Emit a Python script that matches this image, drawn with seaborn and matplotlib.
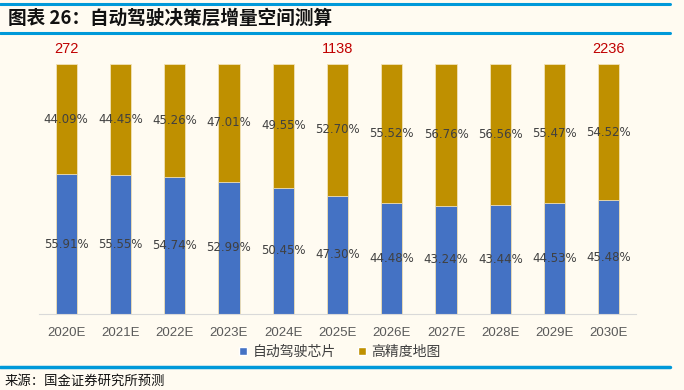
import matplotlib
matplotlib.use('Agg')
import matplotlib.pyplot as plt
from matplotlib.lines import Line2D
from matplotlib.patches import Patch
import seaborn as sns
import pandas as pd

# --- data ---
years = ['2020E', '2021E', '2022E', '2023E', '2024E', '2025E',
         '2026E', '2027E', '2028E', '2029E', '2030E']
chip_share = [55.91, 55.55, 54.74, 52.99, 50.45, 47.30, 44.48, 43.24, 43.44, 44.53, 45.48]
map_share = [44.09, 44.45, 45.26, 47.01, 49.55, 52.70, 55.52, 56.76, 56.56, 55.47, 54.52]
total_years = ['2020E', '2025E', '2030E']
total_values = [272, 1138, 2236]

series_names = ['自动驾驶芯片', '高精度地图']
BLUE = '#4472C4'
GOLD = '#BF9000'
BG = '#FFFBF1'
LINE_BLUE = '#0099D9'

sns.set_theme(style='white')
plt.rcParams['font.family'] = ['Noto Sans CJK SC', 'DejaVu Sans']

df = pd.DataFrame({'year': years, 'chip': chip_share, 'map': map_share})
df['total'] = df['chip'] + df['map']

fig = plt.figure(figsize=(6.84, 3.9), dpi=100, facecolor=BG)
ax = fig.add_axes([39 / 684, 76 / 390, 597 / 684, 250 / 390])
ax.set_facecolor(BG)

# stacked bars: full height in gold, chip share in blue on top of it
sns.barplot(data=df, x='year', y='total', color=GOLD, width=0.39,
            edgecolor='#F2E2B8', linewidth=0.6, saturation=1, ax=ax)
sns.barplot(data=df, x='year', y='chip', color=BLUE, width=0.39,
            edgecolor='#F2E2B8', linewidth=0.6, saturation=1, ax=ax)

for i, (c, m) in enumerate(zip(chip_share, map_share)):
    ax.text(i, c / 2, f'{c:.2f}%', ha='center', va='center', fontsize=8.5,
            color='#404040', family='DejaVu Sans')
    ax.text(i, c + m / 2, f'{m:.2f}%', ha='center', va='center', fontsize=8.5,
            color='#404040', family='DejaVu Sans')

for yr, v in zip(total_years, total_values):
    ax.text(years.index(yr), 106, str(v), ha='center', va='center',
            fontsize=10.5, color='#C00000', family='Liberation Sans')

ax.set_xlim(-0.5, len(years) - 0.5)
ax.set_ylim(0, 100)
ax.set_xlabel('')
ax.set_ylabel('')
ax.set_yticks([])
for s in ['left', 'right', 'top']:
    ax.spines[s].set_visible(False)
ax.spines['bottom'].set_color('#D9D9D9')
ax.spines['bottom'].set_linewidth(0.8)
ax.tick_params(axis='x', length=0, pad=9, labelsize=9.5, labelcolor='#595959')
for lab in ax.get_xticklabels():
    lab.set_family('Liberation Sans')

# legend
handles = [Patch(facecolor=BLUE, label=series_names[0]),
           Patch(facecolor=GOLD, label=series_names[1])]
fig.legend(handles=handles, loc='center', bbox_to_anchor=(0.497, 1 - 352 / 390),
           ncol=2, frameon=False, fontsize=10, handlelength=0.55, handleheight=0.55,
           handletextpad=0.4, columnspacing=1.6, labelcolor='#404040')

# header / footer rules and texts
for y in [4, 32.5]:
    fig.add_artist(Line2D([0, 670 / 684], [1 - y / 390, 1 - y / 390],
                          color=LINE_BLUE, lw=2.2, transform=fig.transFigure))
fig.add_artist(Line2D([0, 670 / 684], [1 - 367 / 390, 1 - 367 / 390],
                      color=LINE_BLUE, lw=2.5, transform=fig.transFigure))

fig.text(8 / 684, 1 - 18 / 390, '图表 26：自动驾驶决策层增量空间测算', fontsize=13.4,
         fontweight='bold', style='italic', color='#111111', va='center', ha='left')
fig.text(5 / 684, 1 - 381 / 390, '来源：国金证券研究所预测', fontsize=9.6,
         color='#111111', va='center', ha='left')

fig.savefig('out.png', dpi=100, facecolor=BG)
